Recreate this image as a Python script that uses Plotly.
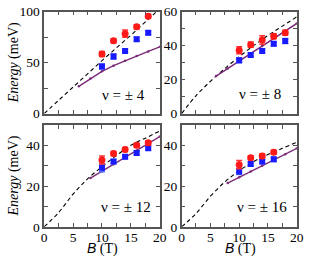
import plotly.graph_objects as go

W, H = 312, 265

B_exp = [10, 12, 14, 16, 18]
B_exp4 = [10, 12, 14, 16]
B_th = [0, 2.5, 5, 7.5, 10, 12.5, 15, 17.5, 20]
B_p12 = [6, 8, 10, 12, 14, 16, 18, 20]
B_p34 = [8, 10, 12, 14, 16, 18, 20]

red1 = [58.5, 71.5, 78.5, 85.2, 95.5]
red1_err = [2.5, 2, 3.5, 2, 2]
blue1 = [46.2, 56, 61.5, 73, 79.4]
blue1_err = [2.5, 2.5, 2, 2, 2]
dash1 = [0, 13, 26, 39, 52, 64.5, 77, 90, 103]
purple1 = [26.8, 34.5, 41.5, 47, 52, 56.5, 61, 65.5]

red2 = [37.3, 40.6, 43.4, 45.6, 47.6]
red2_err = [2, 1.5, 2.5, 1.5, 1.5]
blue2 = [31.4, 34.5, 36.9, 41.1, 42.8]
blue2_err = [1.5, 1, 1, 1.2, 1.5]
dash2 = [0, 10.5, 19, 26.5, 33.5, 40, 46, 51.5, 57]
purple2 = [22.1, 26.5, 31, 35.4, 39.8, 44.3, 48.7, 53.1]

red3 = [32.8, 36.0, 37.9, 40.0, 41.2]
red3_err = [2, 1, 1, 1, 1]
blue3 = [29.0, 32.0, 34.4, 36.2, 38.6]
blue3_err = [2, 1, 1, 1, 1]
dash3 = [0, 7, 16, 23.5, 29.5, 35, 40, 43.5, 47]
purple3 = [23.9, 27.3, 30.7, 34.1, 37.5, 40.9, 44.3]

red4 = [30.5, 33.9, 34.8, 36.6]
red4_err = [2, 1, 1, 1]
blue4 = [27.2, 30.8, 32.0, 33.1]
blue4_err = [1.5, 1, 1, 1]
dash4 = [0, 6.5, 15, 22, 27.5, 32, 35.5, 38.5, 41.5]
purple4 = [21.5, 24.3, 27.1, 30.0, 32.8, 35.6, 38.5]

labels = ["ν = ± 4", "ν = ± 8", "ν = ± 12", "ν = ± 16"]

panels = [
    (B_exp, red1, red1_err, blue1, blue1_err, dash1, B_p12, purple1),
    (B_exp, red2, red2_err, blue2, blue2_err, dash2, B_p12, purple2),
    (B_exp, red3, red3_err, blue3, blue3_err, dash3, B_p34, purple3),
    (B_exp4, red4, red4_err, blue4, blue4_err, dash4, B_p34, purple4),
]

SERIF = "Liberation Serif, Times New Roman, serif"
FRAME = "#555555"


def px(x):
    return x / W


def py(y):
    return 1 - y / H


# pixel boxes (left, right, top, bottom)
boxes = [(42.5, 162, 5, 113), (184.5, 303.5, 5, 113),
         (42.5, 162, 125, 233), (184.5, 303.5, 125, 233)]
yranges = [(0, 100, [0, 50, 100], 25), (0, 60, [0, 20, 40, 60], 10),
           (0, 50, [0, 20, 40], 10), (0, 50, [0, 20, 40], 10)]

fig = go.Figure()
layout = {}
for i, (bx, rd, rde, bl, ble, ds, bp, pp) in enumerate(panels):
    n = i + 1
    xa = "x" if n == 1 else f"x{n}"
    ya = "y" if n == 1 else f"y{n}"
    fig.add_trace(go.Scatter(x=B_th, y=ds, xaxis=xa, yaxis=ya, mode="lines",
                             line=dict(color="black", width=1.1, dash="4px,3px", shape="spline"),
                             showlegend=False, hoverinfo="skip"))
    fig.add_trace(go.Scatter(x=bp, y=pp, xaxis=xa, yaxis=ya, mode="lines+markers",
                             line=dict(color="#7a2a78", width=1.4),
                             marker=dict(size=2.5, color="#7a2a78"),
                             showlegend=False))
    fig.add_trace(go.Scatter(x=bx, y=bl, xaxis=xa, yaxis=ya, mode="markers",
                             marker=dict(symbol="square", size=6, color="#1a1aff"),
                             error_y=dict(type="data", array=ble, color="#4d6bff",
                                          thickness=1.5, width=3),
                             showlegend=False))
    fig.add_trace(go.Scatter(x=bx, y=rd, xaxis=xa, yaxis=ya, mode="markers",
                             marker=dict(symbol="circle", size=7, color="#ff1a1a"),
                             error_y=dict(type="data", array=rde, color="#ff3030",
                                          thickness=1.5, width=3),
                             showlegend=False))
    l, r, t, b = boxes[i]
    y0, y1, yt, ym = yranges[i]
    bottom = n >= 3
    layout["xaxis" if n == 1 else f"xaxis{n}"] = dict(
        domain=[px(l), px(r)], anchor=ya, range=[0, 20],
        tickvals=[0, 5, 10, 15, 20], showticklabels=bottom,
        ticks="inside", ticklen=4, tickwidth=1, tickcolor=FRAME,
        minor=dict(dtick=2.5, ticks="inside", ticklen=4, tickcolor=FRAME),
        showline=True, linecolor=FRAME, linewidth=1.5, mirror="ticks",
        showgrid=False, zeroline=False, ticklabeloverflow="allow",
        ticklabelstandoff=-3,
        tickfont=dict(family=SERIF, size=13.5, color="black"),
    )
    layout["yaxis" if n == 1 else f"yaxis{n}"] = dict(
        domain=[py(b), py(t)], anchor=xa, range=[y0, y1],
        tickvals=yt, ticks="inside", ticklen=4, tickwidth=1, tickcolor=FRAME,
        minor=dict(dtick=ym, ticks="inside", ticklen=4, tickcolor=FRAME),
        showline=True, linecolor=FRAME, linewidth=1.5, mirror="ticks",
        showgrid=False, zeroline=False, ticklabeloverflow="allow",
        tickfont=dict(family=SERIF, size=13.5, color="black"),
    )

ann_pos = [(124, 93), (265, 92), (127, 212), (268, 212)]
annotations = []
for (ax_, ay_), txt in zip(ann_pos, labels):
    annotations.append(dict(x=px(ax_), y=py(ay_), xref="paper", yref="paper",
                            xanchor="center", yanchor="middle",
                            text=txt, showarrow=False,
                            font=dict(family=SERIF, size=15, color="black")))
for ay_ in [59, 179]:
    annotations.append(dict(x=px(11), y=py(ay_), xref="paper", yref="paper",
                            xanchor="center", yanchor="middle",
                            text="<i>Energy</i> (meV)", textangle=-90, showarrow=False,
                            font=dict(family=SERIF, size=14, color="black")))
for ax_ in [103, 245]:
    annotations.append(dict(x=px(ax_), y=py(256.5), xref="paper", yref="paper",
                            xanchor="center", yanchor="middle",
                            text="<span style=\"font-family:Liberation Sans, Arial, sans-serif\"><i>B</i></span> (T)",
                            showarrow=False,
                            font=dict(family=SERIF, size=14, color="black")))

fig.update_layout(**layout)
fig.update_layout(width=W, height=H, margin=dict(l=0, r=0, t=0, b=0),
                  paper_bgcolor="white", plot_bgcolor="white",
                  annotations=annotations)
fig.write_html("out.html", config={"displayModeBar": False},
               post_script="document.body.style.margin='0px';document.body.style.overflow='hidden';")
